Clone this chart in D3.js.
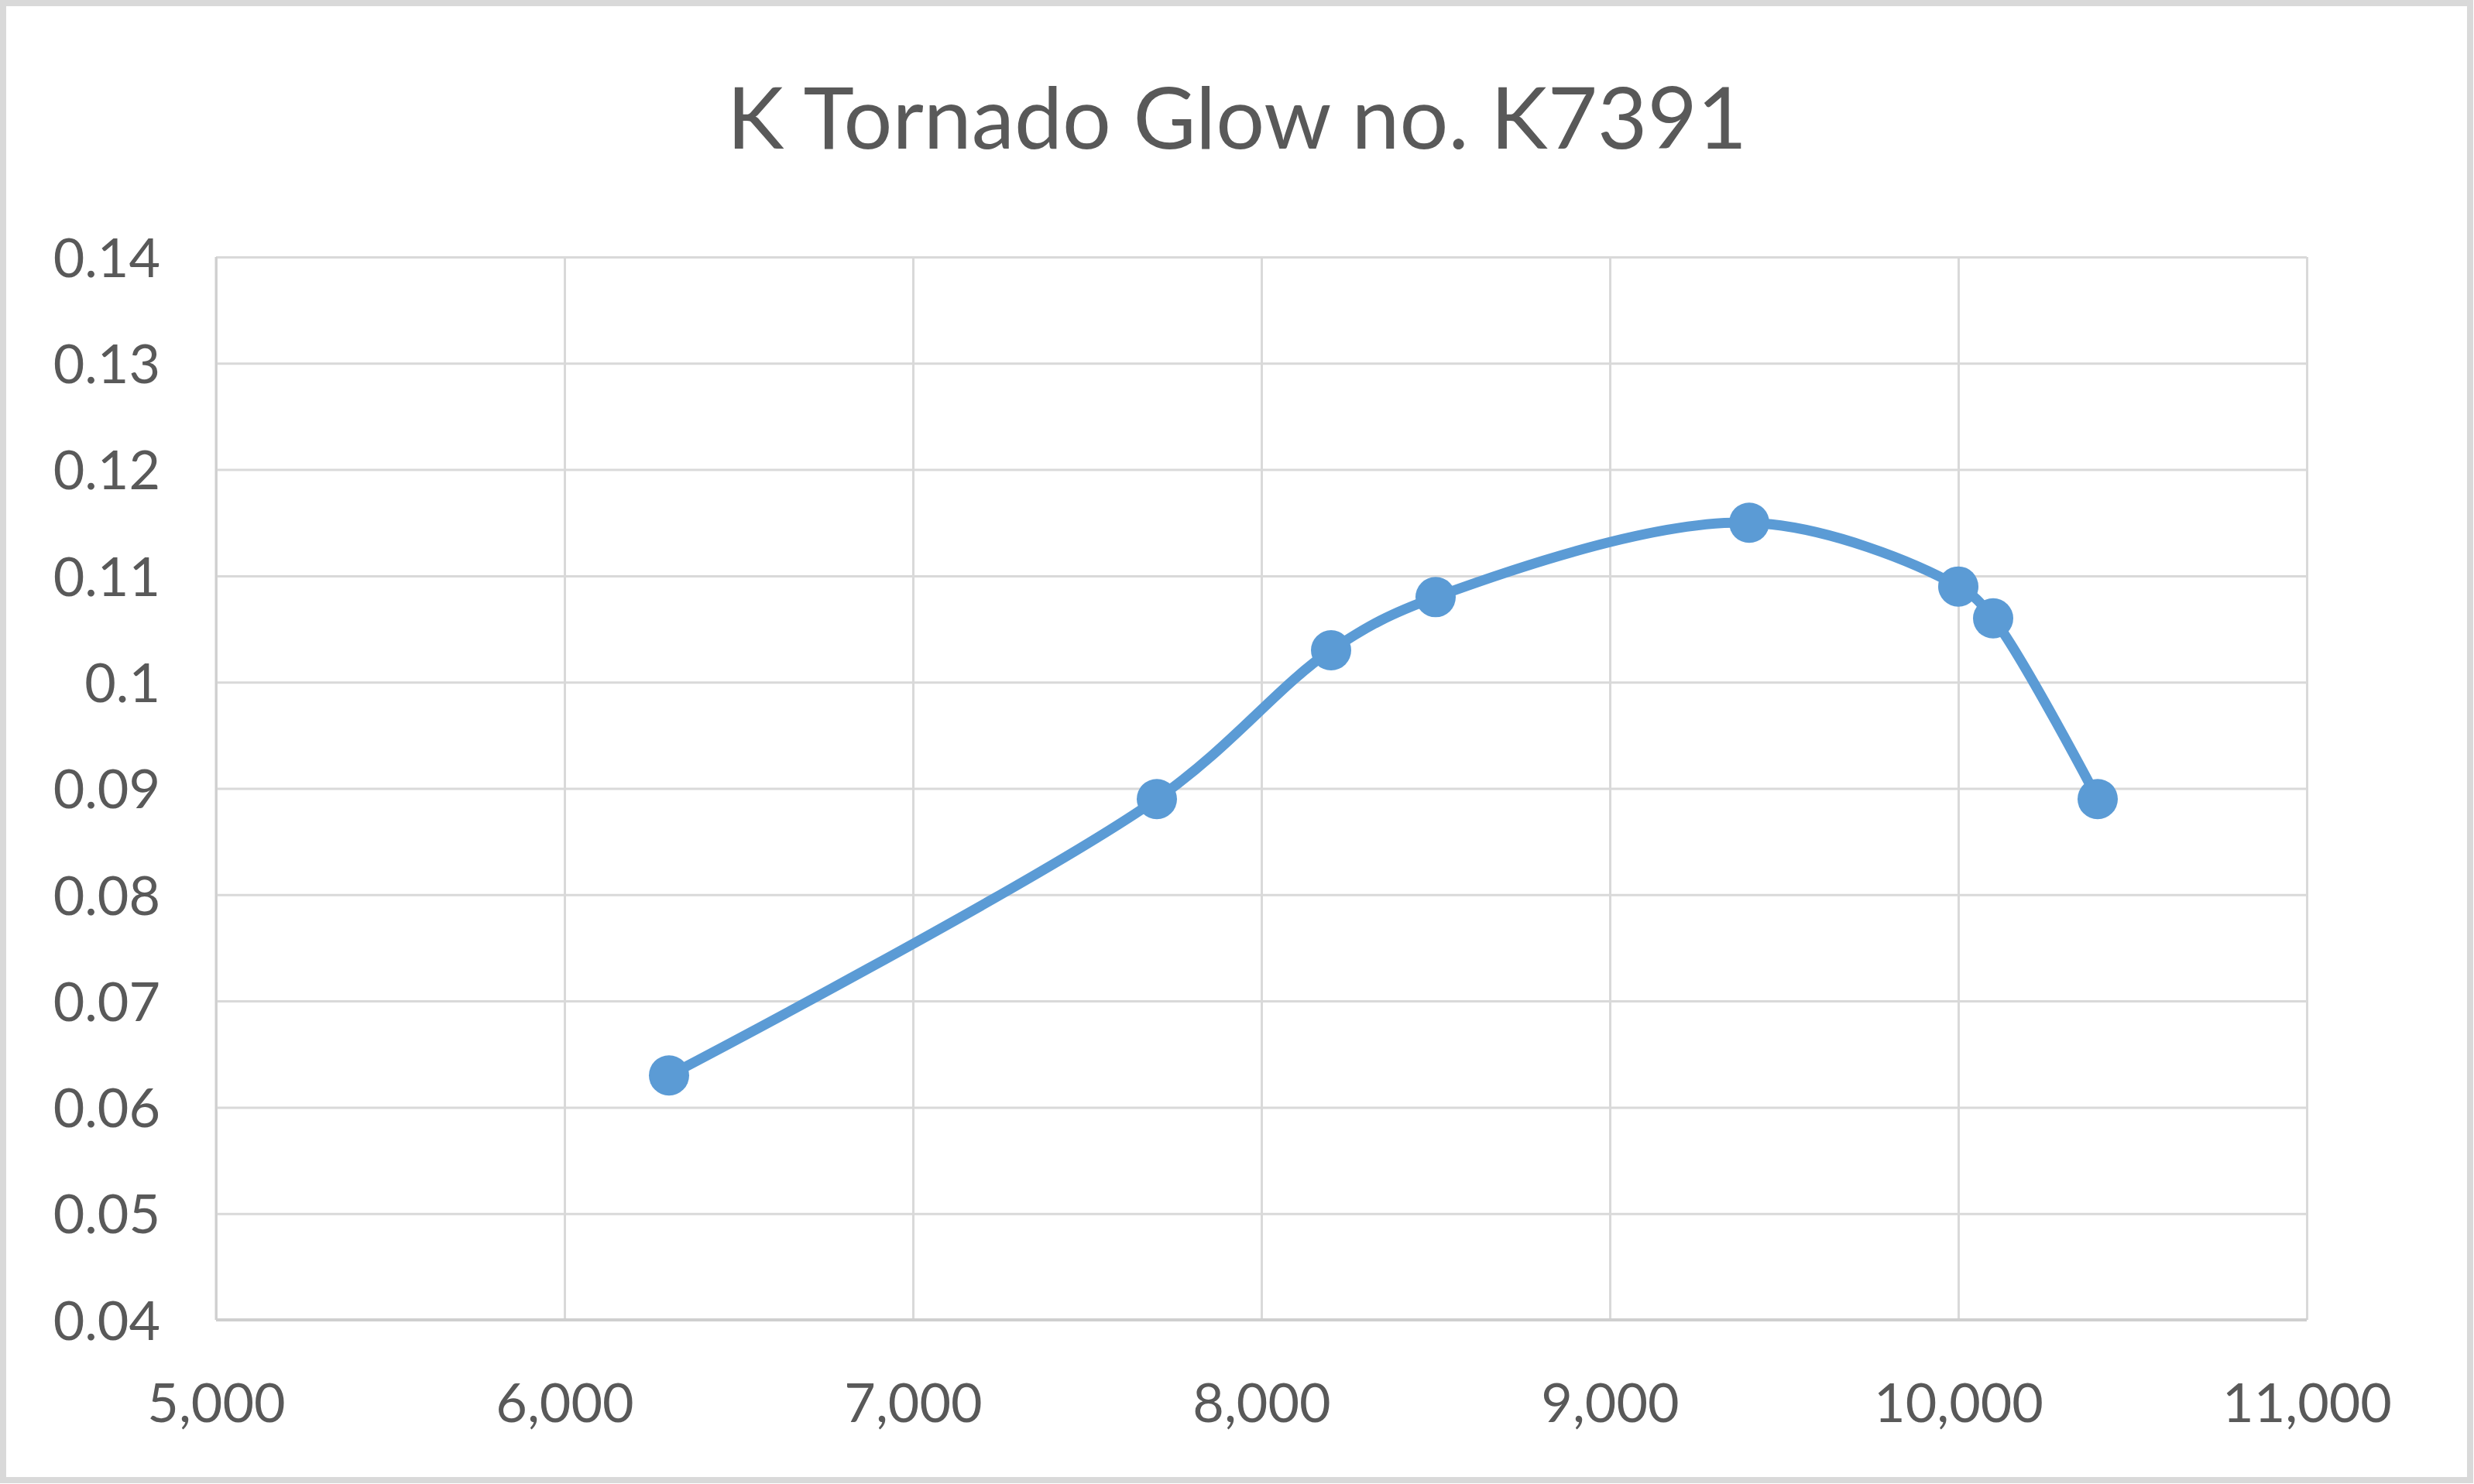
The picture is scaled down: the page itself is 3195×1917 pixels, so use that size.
<!DOCTYPE html>
<html>
<head>
<meta charset="utf-8">
<script src="https://cdn.jsdelivr.net/npm/d3@7"></script>
<style>
  html, body { margin: 0; padding: 0; background: #ffffff; }
  svg { display: block; }
</style>
</head>
<body>
<script>
const title = "K Tornado Glow no. K7391";
const xValues = [6300, 7700, 8200, 8500, 9400, 10000, 10100, 10400];
const yValues = [0.063, 0.089, 0.103, 0.108, 0.115, 0.109, 0.106, 0.089];
const xTicks = [5000, 6000, 7000, 8000, 9000, 10000, 11000];
const xTickLabels = ["5,000", "6,000", "7,000", "8,000", "9,000", "10,000", "11,000"];
const yTicks = [0.04, 0.05, 0.06, 0.07, 0.08, 0.09, 0.1, 0.11, 0.12, 0.13, 0.14];
const yTickLabels = ["0.04", "0.05", "0.06", "0.07", "0.08", "0.09", "0.1", "0.11", "0.12", "0.13", "0.14"];

const W = 3195, H = 1917;
const plot = { left: 279, right: 2979, top: 332, bottom: 1705 };
const textColor = "#595959";
const gridColor = "#d9d9d9";
const lineColor = "#5b9bd5";
const font = "Lato, 'Open Sans', sans-serif";

const svg = d3.select("body").append("svg").attr("width", W).attr("height", H);

svg.append("rect").attr("x", 0).attr("y", 0).attr("width", W).attr("height", H).attr("fill", "#ffffff");
svg.append("rect").attr("x", 4).attr("y", 4).attr("width", W - 9).attr("height", H - 9)
  .attr("fill", "none").attr("stroke", "#d9d9d9").attr("stroke-width", 8);

const x = d3.scaleLinear().domain([5000, 11000]).range([plot.left, plot.right]);
const y = d3.scaleLinear().domain([0.04, 0.14]).range([plot.bottom, plot.top]);

// Horizontal gridlines + y labels
const yAxis = d3.axisLeft(y).tickValues(yTicks)
  .tickFormat((d, i) => yTickLabels[i])
  .tickSize(-(plot.right - plot.left)).tickPadding(72);
const gy = svg.append("g").attr("transform", `translate(${plot.left},0)`).call(yAxis);
gy.select(".domain").remove();
gy.selectAll(".tick line").attr("stroke", gridColor).attr("stroke-width", 3);
gy.selectAll(".tick text").attr("fill", textColor).attr("font-family", font)
  .attr("font-size", 70).attr("dy", "0.36em");

// Vertical gridlines + x labels
const xAxis = d3.axisBottom(x).tickValues(xTicks)
  .tickFormat((d, i) => xTickLabels[i])
  .tickSize(-(plot.bottom - plot.top)).tickPadding(132);
const gx = svg.append("g").attr("transform", `translate(0,${plot.bottom})`).call(xAxis);
gx.select(".domain").remove();
gx.selectAll(".tick line").attr("stroke", gridColor).attr("stroke-width", 3);
gx.selectAll(".tick text").attr("fill", textColor).attr("font-family", font)
  .attr("font-size", 70).attr("dy", "0");

// Axis lines (bottom and left) slightly darker
svg.append("line").attr("x1", plot.left).attr("x2", plot.right).attr("y1", plot.bottom).attr("y2", plot.bottom)
  .attr("stroke", "#cfcfcf").attr("stroke-width", 4);
svg.append("line").attr("x1", plot.left).attr("x2", plot.left).attr("y1", plot.top).attr("y2", plot.bottom)
  .attr("stroke", "#cfcfcf").attr("stroke-width", 3);

// Data
const data = xValues.map((v, i) => ({ x: v, y: yValues[i] }));
const line = d3.line().x(d => x(d.x)).y(d => y(d.y)).curve(d3.curveCatmullRom.alpha(0.5));
svg.append("path").datum(data).attr("d", line).attr("fill", "none")
  .attr("stroke", lineColor).attr("stroke-width", 13).attr("stroke-linecap", "round").attr("stroke-linejoin", "round");
svg.selectAll("circle.pt").data(data).enter().append("circle").attr("class", "pt")
  .attr("cx", d => x(d.x)).attr("cy", d => y(d.y)).attr("r", 26).attr("fill", lineColor);

// Title
svg.append("text").attr("x", W / 2).attr("y", 192).attr("text-anchor", "middle")
  .attr("fill", textColor).attr("font-family", font).attr("font-size", 111).text(title);
</script>
</body>
</html>
